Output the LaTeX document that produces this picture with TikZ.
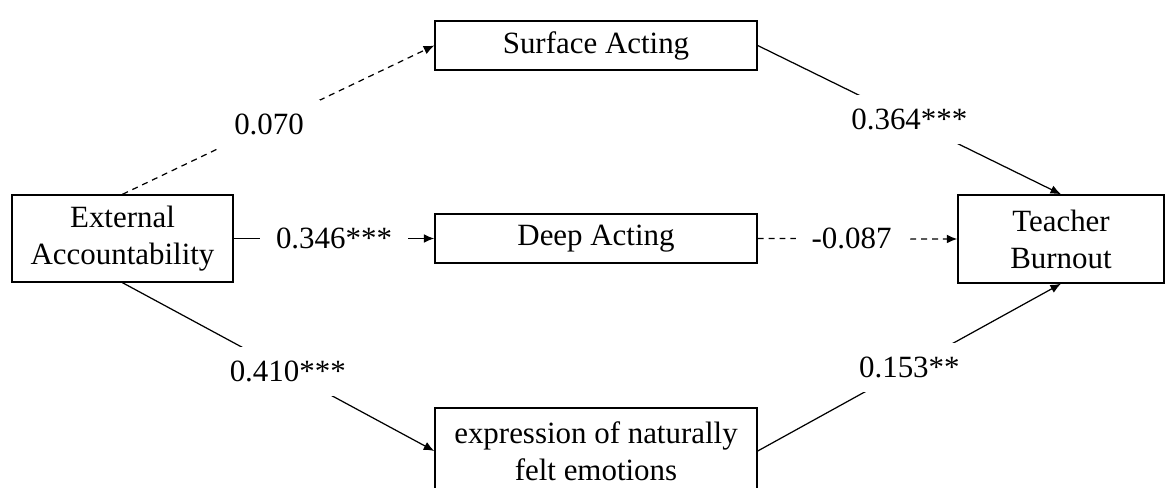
\documentclass[tikz,border=0pt]{standalone}
\usepackage{fontspec}
\setmainfont{Liberation Serif}
\usetikzlibrary{arrows.meta}

\begin{document}
\begin{tikzpicture}[scale=1.0,
    box/.style={draw, line width=0.8pt, align=center, inner sep=0pt,
      font=\fontsize{17.6}{21}\selectfont},
    effect/.style={line width=0.7pt, -{Latex[length=6pt,width=5pt]}},
    nonsig/.style={effect, dash pattern=on 3.4pt off 2.8pt},
    coef/.style={fill=white, inner xsep=9pt, inner ysep=8pt,
      font=\fontsize{17.6}{21}\selectfont}]
    \useasboundingbox (0,0) rectangle (23.3,-9.76);
    % variables
    \node[box, minimum width=4.42cm, minimum height=1.74cm] (ext) at (2.45,-4.77) {External\\Accountability};
    \node[box, minimum width=6.44cm, minimum height=0.98cm] (surf) at (11.92,-0.91) {Surface Acting};
    \node[box, minimum width=6.44cm, minimum height=0.98cm] (deep) at (11.92,-4.77) {Deep Acting};
    \node[box, minimum width=6.44cm, minimum height=1.72cm] (expr) at (11.92,-9.02) {expression of naturally\\felt emotions};
    \node[box, minimum width=4.12cm, minimum height=1.76cm] (burn) at (21.22,-4.78) {Teacher\\Burnout};
    % paths
    \draw[nonsig] (ext.north) -- (surf.west) node[coef, pos=0.47] {0.070};
    \draw[effect] (ext.east) -- (deep.west) node[coef, pos=0.5] {0.346***};
    \draw[effect] (ext.south) -- (expr.west) node[coef, pos=0.53] {0.410***};
    \draw[effect] (surf.east) -- (burn.north) node[coef, pos=0.5] {0.364***};
    \draw[nonsig] (deep.east) -- (burn.west) node[coef, pos=0.47] {-0.087};
    \draw[effect] (expr.east) -- (burn.south) node[coef, pos=0.5] {0.153**};
  \end{tikzpicture}
\end{document}
